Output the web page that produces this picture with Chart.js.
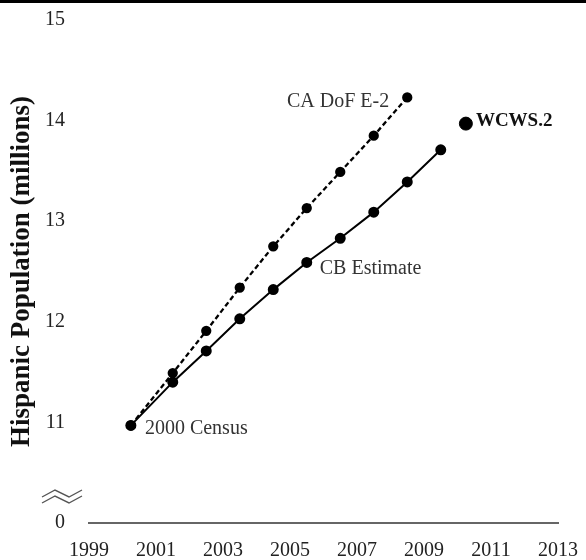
<!DOCTYPE html>
<html>
<head>
<meta charset="utf-8">
<script src="https://cdn.jsdelivr.net/npm/chart.js@4"></script>
<style>
  html, body { margin: 0; padding: 0; background: #fff; }
  #wrap { width: 586px; height: 560px; position: relative; box-sizing: border-box; border-top: 3px solid #000; }
  canvas { display: block; }
</style>
</head>
<body>
<div id="wrap"><canvas id="chart" width="586" height="557"></canvas></div>
<script>
// ── Data (millions, fractional years: Apr 2000 census, Jul estimates)
const cbYears   = [2000.25, 2001.5, 2002.5, 2003.5, 2004.5, 2005.5, 2006.5, 2007.5, 2008.5, 2009.5];
const cbValues  = [10.97, 11.40, 11.71, 12.03, 12.32, 12.59, 12.83, 13.09, 13.39, 13.71];
const dofYears  = [2000.25, 2001.5, 2002.5, 2003.5, 2004.5, 2005.5, 2006.5, 2007.5, 2008.5];
const dofValues = [10.97, 11.49, 11.91, 12.34, 12.75, 13.13, 13.49, 13.85, 14.23];
const wcwsYears  = [2010.25];
const wcwsValues = [13.97];
const xTicks = [1999, 2001, 2003, 2005, 2007, 2009, 2011, 2013];
const yTicks = [10, 11, 12, 13, 14, 15];   // 10 is shown as "0" (broken axis)

const SERIF = '"Liberation Serif", "DejaVu Serif", serif';
const toPts = (xs, ys) => xs.map((x, i) => ({ x, y: ys[i] }));

// ── Text labels next to the lines + the axis-break mark
const notes = {
  id: 'notes',
  afterDatasetsDraw(chart) {
    const { ctx, scales: { x, y } } = chart;
    const put = (text, xv, yv, dx, dy, align, bold) => {
      ctx.font = bold ? 'bold 19px ' + SERIF : '20px ' + SERIF;
      ctx.fillStyle = bold ? '#111' : '#333';
      ctx.textAlign = align;
      ctx.textBaseline = 'middle';
      ctx.fillText(text, x.getPixelForValue(xv) + dx, y.getPixelForValue(yv) + dy);
    };
    ctx.save();
    put('2000 Census', cbYears[0], cbValues[0], 14, 3, 'left');
    put('CB Estimate', cbYears[5], cbValues[5], 13, 6, 'left');
    put('CA DoF E-2', dofYears[8], dofValues[8], -18, 4, 'right');
    put('WCWS.2', wcwsYears[0], wcwsValues[0], 10, -3, 'left', true);

    // ≈ break symbol on the y axis
    const bx = chart.chartArea.left - 47, by = chart.chartArea.bottom - 30;
    ctx.strokeStyle = '#555';
    ctx.lineWidth = 1.4;
    [0, 6].forEach(off => {
      ctx.beginPath();
      ctx.moveTo(bx, by + off + 4);
      ctx.lineTo(bx + 13, by + off - 3);
      ctx.lineTo(bx + 27, by + off + 4);
      ctx.lineTo(bx + 40, by + off - 3);
      ctx.stroke();
    });
    ctx.restore();
  }
};

new Chart(document.getElementById('chart'), {
  type: 'line',
  data: {
    datasets: [
      {
        label: 'CA DoF E-2',
        data: toPts(dofYears, dofValues),
        borderColor: '#000', backgroundColor: '#000',
        borderWidth: 2.3, borderDash: [5, 3],
        pointRadius: 4, pointHoverRadius: 4,
      },
      {
        label: 'CB Estimate',
        data: toPts(cbYears, cbValues),
        borderColor: '#000', backgroundColor: '#000',
        borderWidth: 2,
        pointRadius: 4.5, pointHoverRadius: 4.5,
      },
      {
        label: 'WCWS.2',
        data: toPts(wcwsYears, wcwsValues),
        showLine: false,
        borderColor: '#000', backgroundColor: '#000',
        pointRadius: 6.5, pointHoverRadius: 6.5,
      },
    ]
  },
  options: {
    responsive: false,
    animation: false,
    layout: { padding: { top: 17, right: 28, left: 0, bottom: 0 } },
    plugins: { legend: { display: false }, tooltip: { enabled: false } },
    scales: {
      x: {
        type: 'linear', min: 1999, max: 2013,
        afterBuildTicks: s => { s.ticks = xTicks.map(v => ({ value: v })); },
        afterFit: s => { s.height = 37; s.paddingLeft = 0; s.paddingRight = 0; },
        grid: { display: false, drawTicks: false },
        border: { display: true, color: '#666', width: 2 },
        ticks: {
          color: '#222', padding: 16, maxRotation: 0, autoSkip: false,
          font: { family: SERIF, size: 20 },
          callback: v => String(v),
        },
      },
      y: {
        type: 'linear', min: 10, max: 15,
        afterBuildTicks: s => { s.ticks = yTicks.map(v => ({ value: v })); },
        afterFit: s => { s.width = 89; s.paddingTop = 0; s.paddingBottom = 0; },
        grid: { display: false, drawTicks: false },
        border: { display: false },
        ticks: {
          color: '#222', padding: 24,
          font: { family: SERIF, size: 20 },
          callback: v => (v === 10 ? '0' : String(v)),
        },
        title: {
          display: true, text: 'Hispanic Population (millions)',
          color: '#111', padding: { top: 6, bottom: 0 },
          font: { family: SERIF, size: 27, weight: 'bold' },
        },
      },
    },
  },
  plugins: [notes],
});
</script>
</body>
</html>
